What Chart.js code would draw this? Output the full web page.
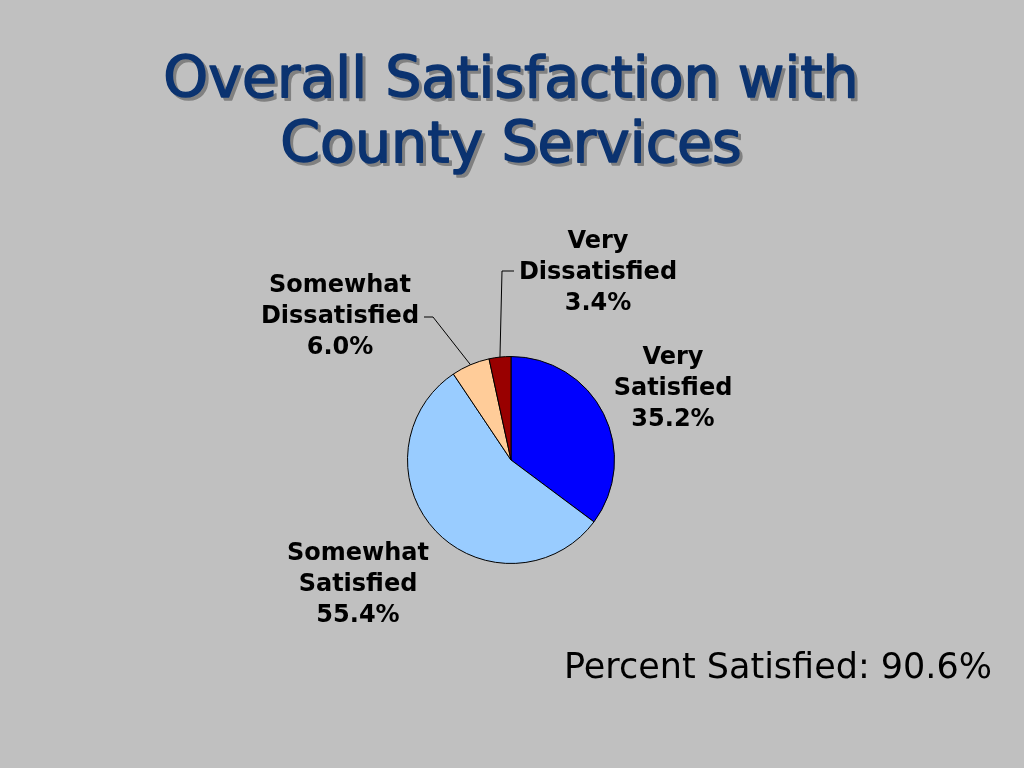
<!DOCTYPE html>
<html>
<head>
<meta charset="utf-8">
<script src="https://cdn.jsdelivr.net/npm/chart.js@4/dist/chart.umd.min.js"></script>
<style>
  html, body { margin: 0; padding: 0; background: #c0c0c0; }
  #wrap { width: 1024px; height: 768px; position: relative; }
</style>
</head>
<body>
<div id="wrap"><canvas id="satChart" width="1024" height="768"></canvas></div>
<script>
// Chart data
const categories = ['Very Satisfied', 'Somewhat Satisfied', 'Somewhat Dissatisfied', 'Very Dissatisfied'];
const percents = [35.2, 55.4, 6.0, 3.4];
const sliceColors = ['#0000ff', '#99ccff', '#ffcc99', '#990000'];
const titleLines = ['Overall Satisfaction with', 'County Services'];
const footerText = 'Percent Satisfied: 90.6%';

// where each slice label sits (center x, first line y) and optional leader elbow
const labelLayout = [
    { x: 673, y: 358 },
    { x: 358, y: 554 },
    { x: 340, y: 286, elbow: [433, 317], end: [424, 317] },
    { x: 598, y: 242, elbow: [502, 271], end: [514, 271] },
];

const textPlugin = {
    id: 'slideText',
    afterDraw(chart) {
        const ctx = chart.ctx;
        ctx.save();

        // title with drop shadow
        ctx.font = '57px "DejaVu Sans"';
        ctx.textAlign = 'center';
        ctx.textBaseline = 'alphabetic';
        ctx.lineJoin = 'round';
        titleLines.forEach((line, i) => {
            const y = 97 + i * 65;
            ctx.fillStyle = '#808080';
            ctx.strokeStyle = '#808080';
            ctx.lineWidth = 1.5;
            ctx.fillText(line, 511 + 3, y + 3);
            ctx.strokeText(line, 511 + 3, y + 3);
            ctx.fillStyle = '#0b3370';
            ctx.strokeStyle = '#0b3370';
            ctx.fillText(line, 511, y);
            ctx.strokeText(line, 511, y);
        });

        // slice labels + leader lines
        const arcs = chart.getDatasetMeta(0).data;
        ctx.font = 'bold 24px "DejaVu Sans"';
        ctx.fillStyle = '#000';
        ctx.textBaseline = 'middle';
        categories.forEach((name, i) => {
            const pos = labelLayout[i];
            const words = name.split(' ');
            const lines = [words[0], words.slice(1).join(' '), percents[i].toFixed(1) + '%'];
            lines.forEach((t, j) => ctx.fillText(t, pos.x, pos.y + j * 31));

            if (pos.elbow) {
                const a = arcs[i];
                const mid = (a.startAngle + a.endAngle) / 2;
                const sx = a.x + Math.cos(mid) * a.outerRadius;
                const sy = a.y + Math.sin(mid) * a.outerRadius;
                ctx.beginPath();
                ctx.strokeStyle = '#000';
                ctx.lineWidth = 1;
                ctx.moveTo(sx, sy);
                ctx.lineTo(pos.elbow[0], pos.elbow[1]);
                ctx.lineTo(pos.end[0], pos.end[1]);
                ctx.stroke();
            }
        });

        // footer
        ctx.font = '35px "DejaVu Sans"';
        ctx.textAlign = 'right';
        ctx.textBaseline = 'alphabetic';
        ctx.fillText(footerText, 992, 678);

        ctx.restore();
    }
};

new Chart(document.getElementById('satChart').getContext('2d'), {
    type: 'pie',
    data: {
        labels: categories,
        datasets: [{
            data: percents,
            backgroundColor: sliceColors,
            borderColor: '#000',
            borderWidth: 1,
        }],
    },
    options: {
        responsive: false,
        animation: false,
        layout: { padding: { left: 407, right: 409, top: 356, bottom: 204 } },
        plugins: {
            legend: { display: false },
            tooltip: { enabled: false },
            title: { display: false },
        },
    },
    plugins: [textPlugin],
});
</script>
</body>
</html>
